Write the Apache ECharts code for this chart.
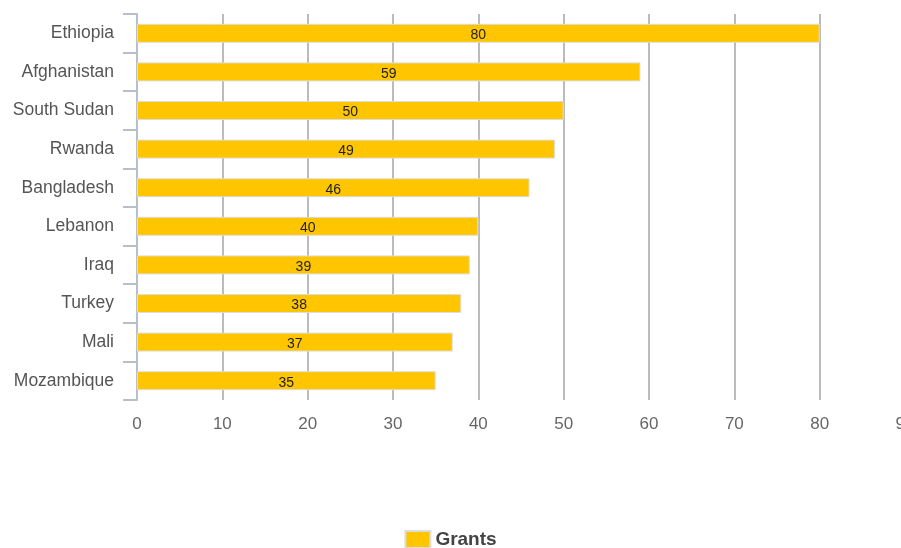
<!DOCTYPE html>
<html>
<head>
<meta charset="utf-8">
<script src="https://cdn.jsdelivr.net/npm/echarts@6/dist/echarts.min.js"></script>
<style>
  html, body { margin: 0; padding: 0; background: #fff; }
  #chart { width: 901px; height: 548px; }
</style>
</head>
<body>
<div id="chart"></div>
<script>
// categories top to bottom as shown
const countries = ['Ethiopia', 'Afghanistan', 'South Sudan', 'Rwanda', 'Bangladesh', 'Lebanon', 'Iraq', 'Turkey', 'Mali', 'Mozambique']
const grants = [80, 59, 50, 49, 46, 40, 39, 38, 37, 35]
const seriesName = 'Grants'

const chart = echarts.init(document.getElementById('chart'), null, { renderer: 'canvas' })

chart.setOption({
  animation: false,
  textStyle: { fontFamily: 'Liberation Sans, Arial, sans-serif' },
  grid: { left: 137, right: -4, top: 14, bottom: 148, containLabel: false, outerBoundsMode: 'none' },
  legend: {
    top: 525,
    left: 'center',
    itemWidth: 25,
    itemHeight: 17,
    icon: 'rect',
    textStyle: { fontSize: 19, fontWeight: 'bold', color: '#444' },
    data: [seriesName]
  },
  xAxis: {
    type: 'value',
    min: 0,
    max: 90,
    interval: 10,
    axisLine: { show: false },
    axisTick: { show: false },
    axisLabel: { color: '#666', fontSize: 17, margin: 16 },
    splitLine: { lineStyle: { color: '#bbb', width: 2 } }
  },
  yAxis: {
    type: 'category',
    inverse: true,
    data: countries,
    axisLine: { show: true, lineStyle: { color: '#b7bfcc', width: 2 } },
    axisTick: { show: true, length: 14, alignWithLabel: false, lineStyle: { color: '#b7bfcc', width: 2 } },
    axisLabel: { color: '#555', fontSize: 17.5, margin: 23 }
  },
  series: [{
    name: seriesName,
    type: 'bar',
    data: grants,
    barWidth: 19,
    itemStyle: { color: '#ffc600', borderColor: '#ddd', borderWidth: 1 },
    label: {
      show: true,
      position: 'inside',
      offset: [0, 2],
      color: '#222',
      fontSize: 14
    }
  }]
})
</script>
</body>
</html>
